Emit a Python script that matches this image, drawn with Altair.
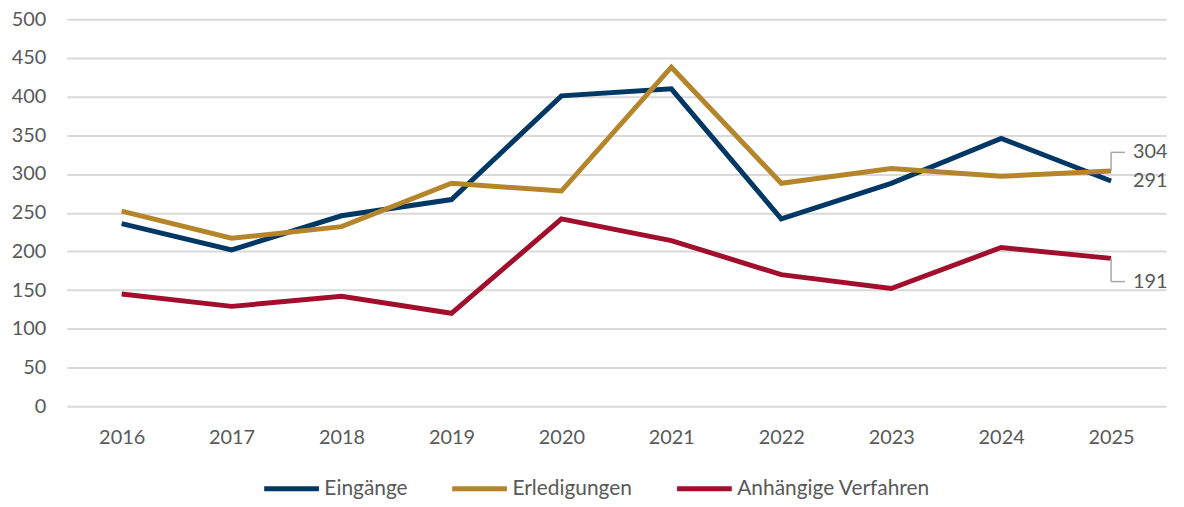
import altair as alt
import pandas as pd

years = ["2016", "2017", "2018", "2019", "2020", "2021", "2022", "2023", "2024", "2025"]
eingaenge = [236, 202, 246, 267, 401, 410, 242, 288, 346, 291]
erledigungen = [252, 217, 232, 288, 278, 438, 288, 307, 297, 304]
anhaengig = [145, 129, 142, 120, 242, 214, 170, 152, 205, 191]
series = ["Eingänge", "Erledigungen", "Anhängige Verfahren"]
colors = ["#003865", "#B5852B", "#A10F2D"]
y_ticks = [0, 50, 100, 150, 200, 250, 300, 350, 400, 450, 500]

# end labels: value, label position (in data units)
lab_series = ["Erledigungen", "Eingänge", "Anhängige Verfahren"]
lab_values = [304, 291, 191]
lab_pos = [328, 291, 161]
lab_leader = [True, False, True]

FONT = "Lato"
TXT = "#595959"
FS = 20

rows = []
for s, vals in zip(series, [eingaenge, erledigungen, anhaengig]):
    for y, v in zip(years, vals):
        rows.append({"Jahr": y, "Wert": v, "Serie": s})
df = pd.DataFrame(rows)

ldf = pd.DataFrame({
    "Jahr": [years[-1]] * 3,
    "Serie": lab_series,
    "Wert": lab_values,
    "Pos": lab_pos,
    "Leader": lab_leader,
    "Text": [str(v) for v in lab_values],
})
lead = ldf[ldf["Leader"]]

xscale = alt.Scale(domain=years, type="point", padding=0.5)
yscale = alt.Scale(domain=[0, 500])
xaxis = alt.Axis(title=None, labelAngle=0, domain=False, ticks=False, grid=False,
                 labelPadding=21, labelFontSize=FS, labelColor=TXT, labelFont=FONT)
yaxis = alt.Axis(title=None, values=y_ticks, domain=False, ticks=False,
                 grid=True, gridColor="#D9D9D9", gridWidth=2, labelPadding=21,
                 labelOverlap=False, labelFontSize=FS, labelColor=TXT, labelFont=FONT)

lines = alt.Chart(df).mark_line(strokeWidth=5, strokeJoin="miter", strokeCap="butt").encode(
    x=alt.X("Jahr:O", scale=xscale, axis=xaxis),
    y=alt.Y("Wert:Q", scale=yscale, axis=yaxis),
    color=alt.Color("Serie:N", scale=alt.Scale(domain=series, range=colors),
                    legend=alt.Legend(title=None, orient="none", direction="horizontal",
                                      legendX=196, legendY=442, labelLimit=400,
                                      symbolType="stroke", symbolSize=3025, symbolStrokeWidth=5,
                                      labelFontSize=21, labelColor=TXT, labelFont=FONT,
                                      labelOffset=3, columnPadding=34)),
    order=alt.Order("Jahr:O"),
)

leader_v = alt.Chart(lead).mark_rule(color="#A6A6A6", strokeWidth=1.5).encode(
    x=alt.X("Jahr:O", scale=xscale, axis=xaxis),
    y=alt.Y("Wert:Q", scale=yscale, axis=yaxis),
    y2="Pos:Q",
)
leader_h = alt.Chart(lead).mark_rule(color="#A6A6A6", strokeWidth=1.5, x2Offset=14).encode(
    x=alt.X("Jahr:O", scale=xscale, axis=xaxis),
    x2="Jahr:O",
    y=alt.Y("Pos:Q", scale=yscale, axis=yaxis),
)
labels = alt.Chart(ldf).mark_text(align="left", baseline="middle", dx=22, fontSize=FS,
                                  color=TXT, font=FONT).encode(
    x=alt.X("Jahr:O", scale=xscale, axis=xaxis),
    y=alt.Y("Pos:Q", scale=yscale, axis=yaxis),
    text="Text:N",
)

chart = alt.layer(lines, leader_v, leader_h, labels).properties(
    width=1105, height=389,
    autosize=alt.AutoSizeParams(type="none"),
    padding={"left": 59, "top": 10, "right": 10, "bottom": 92},
).configure_view(stroke=None)

chart.save("out.html", embed_options={"renderer": "svg", "actions": False})
